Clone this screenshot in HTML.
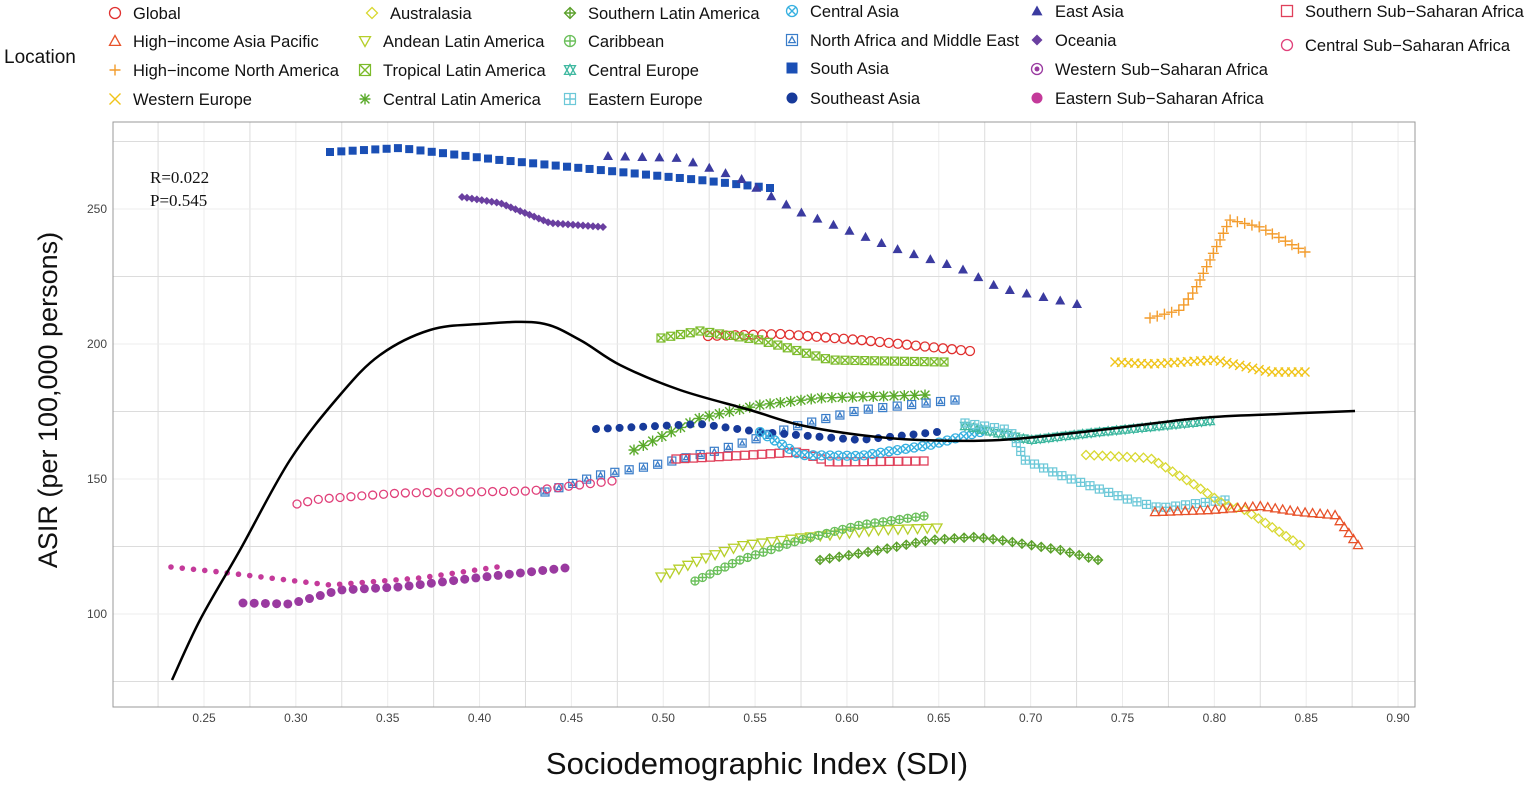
<!DOCTYPE html>
<html><head><meta charset="utf-8"><style>
body{margin:0;background:#fff;width:1535px;height:785px;overflow:hidden}
svg{display:block;font-family:"Liberation Sans",sans-serif}
</style></head><body>
<svg id="s" width="1535" height="785" xmlns="http://www.w3.org/2000/svg">
<rect x="0" y="0" width="1535" height="785" fill="#fff"/>
<g id="grid"></g>
<rect x="113" y="122" width="1302" height="585" fill="none" stroke="#999" stroke-width="1"/>
<g font-size="12" fill="#444" text-anchor="end">
<text x="107" y="213">250</text><text x="107" y="348">200</text><text x="107" y="483">150</text><text x="107" y="618">100</text>
</g>
<g id="xt" font-size="12" fill="#444" text-anchor="middle"></g>
<text x="757" y="774" font-size="31" text-anchor="middle" fill="#111">Sociodemographic Index (SDI)</text>
<text transform="translate(57,400) rotate(-90)" font-size="27" text-anchor="middle" fill="#111">ASIR (per 100,000 persons)</text>
<text x="150" y="183" font-family="Liberation Serif,serif" font-size="17" fill="#111">R=0.022</text>
<text x="150" y="206" font-family="Liberation Serif,serif" font-size="17" fill="#111">P=0.545</text>
<g id="pts"></g>
<path id="curve" fill="none" stroke="#000" stroke-width="2.5"/>
<g id="leg" font-size="16.5" fill="#111"></g>
<text x="4" y="63" font-size="19" fill="#111">Location</text>
</svg>
<script>
var NS="http://www.w3.org/2000/svg";
function el(p,t,a){var e=document.createElementNS(NS,t);for(var k in a)e.setAttribute(k,a[k]);p.appendChild(e);return e;}
var g=document.getElementById('grid');
for(var i=0;i<=28;i++){var s=0.225+i*0.025;var x=204+(s-0.25)*1837;if(x<113||x>1415)continue;
el(g,'line',{x1:x,x2:x,y1:122,y2:707,stroke:i%2?'#ececec':'#dcdcdc','stroke-width':1});}
[141.5,209,276.5,344,411.5,479,546.5,614,681.5].forEach(function(y,i){el(g,'line',{x1:113,x2:1415,y1:y,y2:y,stroke:i%2?'#ececec':'#dcdcdc','stroke-width':1});});
var xt=document.getElementById('xt');
for(var i=0;i<14;i++){var s=0.25+i*0.05;var t=el(xt,'text',{x:204+i*91.85,y:722});t.textContent=s.toFixed(2);}
function mk(p,type,c,x,y,r){
 r=r||4;
 switch(type){
 case 'oc':el(p,'circle',{cx:x,cy:y,r:r,fill:'none',stroke:c,'stroke-width':1.3});break;
 case 'dot':el(p,'circle',{cx:x,cy:y,r:r,fill:c});break;
 case 'tri':el(p,'polygon',{points:(x)+','+(y-r)+' '+(x-r)+','+(y+r*0.8)+' '+(x+r)+','+(y+r*0.8),fill:'none',stroke:c,'stroke-width':1.3});break;
 case 'ftri':el(p,'polygon',{points:(x)+','+(y-r)+' '+(x-r)+','+(y+r*0.8)+' '+(x+r)+','+(y+r*0.8),fill:c});break;
 case 'dtri':el(p,'polygon',{points:(x)+','+(y+r)+' '+(x-r)+','+(y-r*0.8)+' '+(x+r)+','+(y-r*0.8),fill:'none',stroke:c,'stroke-width':1.3});break;
 case 'plus':el(p,'path',{d:'M'+(x-r)+' '+y+'h'+2*r+'M'+x+' '+(y-r)+'v'+2*r,stroke:c,'stroke-width':1.4});break;
 case 'x':el(p,'path',{d:'M'+(x-r)+' '+(y-r)+'l'+2*r+' '+2*r+'M'+(x-r)+' '+(y+r)+'l'+2*r+' '+(-2*r),stroke:c,'stroke-width':1.4});break;
 case 'dia':el(p,'polygon',{points:x+','+(y-r)+' '+(x+r)+','+y+' '+x+','+(y+r)+' '+(x-r)+','+y,fill:'none',stroke:c,'stroke-width':1.3});break;
 case 'fdia':el(p,'polygon',{points:x+','+(y-r)+' '+(x+r)+','+y+' '+x+','+(y+r)+' '+(x-r)+','+y,fill:c});break;
 case 'diap':mk(p,'dia',c,x,y,r);mk(p,'plus',c,x,y,r);break;
 case 'boxx':el(p,'rect',{x:x-r,y:y-r,width:2*r,height:2*r,fill:'none',stroke:c,'stroke-width':1.2});mk(p,'x',c,x,y,r);break;
 case 'ast':mk(p,'plus',c,x,y,r);mk(p,'x',c,x,y,r*0.8);break;
 case 'cp':mk(p,'oc',c,x,y,r);mk(p,'plus',c,x,y,r);break;
 case 'cx':mk(p,'oc',c,x,y,r);mk(p,'x',c,x,y,r*0.7);break;
 case 'star':mk(p,'tri',c,x,y,r);mk(p,'dtri',c,x,y,r);break;
 case 'bp':el(p,'rect',{x:x-r,y:y-r,width:2*r,height:2*r,fill:'none',stroke:c,'stroke-width':1.2});mk(p,'plus',c,x,y,r);break;
 case 'bt':el(p,'rect',{x:x-r,y:y-r,width:2*r,height:2*r,fill:'none',stroke:c,'stroke-width':1.2});mk(p,'tri',c,x,y,r*0.6);break;
 case 'sq':el(p,'rect',{x:x-r,y:y-r,width:2*r,height:2*r,fill:c});break;
 case 'osq':el(p,'rect',{x:x-r,y:y-r,width:2*r,height:2*r,fill:'none',stroke:c,'stroke-width':1.3});break;
 case 'cd':mk(p,'oc',c,x,y,r);mk(p,'dot',c,x,y,r*0.45);break;
 }
}
function along(pts,n){var L=[0];for(var i=1;i<pts.length;i++)L.push(L[i-1]+Math.hypot(pts[i][0]-pts[i-1][0],pts[i][1]-pts[i-1][1]));
var T=L[L.length-1],out=[];for(var k=0;k<n;k++){var d=T*k/(n-1),j=1;while(j<pts.length-1&&L[j]<d)j++;var f=(d-L[j-1])/(L[j]-L[j-1]||1);
out.push([pts[j-1][0]+f*(pts[j][0]-pts[j-1][0]),pts[j-1][1]+f*(pts[j][1]-pts[j-1][1])]);}return out;}
var S=[
['sq','#1a4fb5',[[330,152],[400,148],[500,160],[600,170],[700,180],[770,188]],40,4],
['ftri','#3b3ba0',[[608,156],[680,158],[740,178],[760,190],[800,212],[900,250],[960,268],[1000,288],[1077,304]],30,5],
['fdia','#6a3fa0',[[462,197],[500,203],[530,215],[550,223],[603,227]],30,4],
['plus','#f39c2c',[[1150,318],[1180,310],[1195,290],[1215,250],[1230,220],[1260,227],[1305,252]],30,5.5],
['x','#f0c419',[[1115,362],[1150,364],[1215,360],[1270,372],[1305,372]],30,4.5],
['oc','#e0302f',[[708,336],[780,334],[860,340],[970,351]],30,4.5],
['boxx','#7cbb2b',[[661,338],[700,331],[760,340],[830,360],[944,362]],30,4],
['ast','#5aaa2b',[[634,450],[700,418],[760,405],[820,398],[925,395]],30,5.5],
['bt','#3a7dc9',[[545,492],[600,475],[650,466],[720,450],[800,425],[860,410],[955,400]],30,4],
['dot','#173a9a',[[596,429],[700,424],[760,432],[860,440],[937,432]],30,4],
['osq','#e0405a',[[676,459],[750,455],[800,452],[830,462],[924,461]],30,4],
['cx','#36b0e0',[[760,432],[800,455],[860,456],[930,445],[980,432]],28,4.5],
['star','#3fb8a0',[[965,426],[1030,440],[1100,432],[1210,421]],30,4.5],
['bp','#6cc8d8',[[965,423],[1010,430],[1025,460],[1060,475],[1130,500],[1160,508],[1225,500]],30,4],
['dia','#d8d830',[[1086,455],[1150,458],[1195,485],[1225,505],[1245,510],[1300,545]],30,4.5],
['tri','#e8522a',[[1155,512],[1210,510],[1260,506],[1300,512],[1335,515],[1358,545]],30,4.5],
['oc','#e0407a',[[297,504],[320,499],[400,493],[530,491],[612,481]],30,4],
['dot','#9a3aa0',[[243,603],[290,604],[340,590],[400,587],[475,578],[565,568]],30,4.5],
['dot','#c43a9a',[[171,567],[220,572],[270,578],[330,585],[420,578],[497,567]],30,2.8],
['dtri','#b6cf2a',[[661,577],[700,560],[740,546],[800,538],[880,530],[937,528]],30,5],
['cp','#6abf5a',[[695,581],[740,560],[800,540],[860,525],[924,516]],30,4],
['diap','#5aa02a',[[820,560],[880,550],[930,540],[975,537],[1000,540],[1060,550],[1098,560]],30,4.5]
];
var P=document.getElementById('pts');
S.forEach(function(s){along(s[2],s[3]).forEach(function(q){mk(P,s[0],s[1],q[0],q[1],s[4]);});});
var C=[[172,680],[200,620],[240,550],[290,460],[340,395],[380,355],[430,330],[480,324],[540,323],[580,340],[620,365],[680,390],[750,410],[800,425],[860,435],[920,440],[1000,440],[1100,430],[1200,418],[1280,414],[1355,411]];
var d='M'+C[0];for(var i=0;i<C.length-1;i++){var p0=C[Math.max(0,i-1)],p1=C[i],p2=C[i+1],p3=C[Math.min(C.length-1,i+2)];
d+=' C'+(p1[0]+(p2[0]-p0[0])/6)+','+(p1[1]+(p2[1]-p0[1])/6)+' '+(p2[0]-(p3[0]-p1[0])/6)+','+(p2[1]-(p3[1]-p1[1])/6)+' '+p2[0]+','+p2[1];}
document.getElementById('curve').setAttribute('d',d);
var Lg=document.getElementById('leg');
var LE=[
[115,13,'oc','#e0302f','Global'],[115,41,'tri','#e8522a','High\u2212income Asia Pacific'],[115,70,'plus','#f39c2c','High\u2212income North America'],[115,99,'x','#f0c419','Western Europe'],
[372,13,'dia','#d8d830',' Australasia'],[365,41,'dtri','#b6cf2a','Andean Latin America'],[365,70,'boxx','#7cbb2b','Tropical Latin America'],[365,99,'ast','#5aaa2b','Central Latin America'],
[570,13,'diap','#5aa02a','Southern Latin America'],[570,41,'cp','#6abf5a','Caribbean'],[570,70,'star','#3fb8a0','Central Europe'],[570,99,'bp','#6cc8d8','Eastern Europe'],
[792,11,'cx','#36b0e0','Central Asia'],[792,40,'bt','#3a7dc9','North Africa and Middle East'],[792,68,'sq','#1a4fb5',' South Asia'],[792,98,'dot','#173a9a','Southeast Asia'],
[1037,11,'ftri','#3b3ba0','East Asia'],[1037,40,'fdia','#6a3fa0','Oceania'],[1037,69,'cd','#9a3aa0','Western Sub\u2212Saharan Africa'],[1037,98,'dot','#c43a9a','Eastern Sub\u2212Saharan Africa'],
[1287,11,'osq','#e0405a','Southern Sub\u2212Saharan Africa'],[1287,45,'oc','#e0407a','Central Sub\u2212Saharan Africa']];
LE.forEach(function(l){mk(Lg,l[2],l[3],l[0],l[1],5.5);var t=el(Lg,'text',{x:l[0]+18,y:l[1]+6});t.textContent=l[4];});
</script>
</body></html>
